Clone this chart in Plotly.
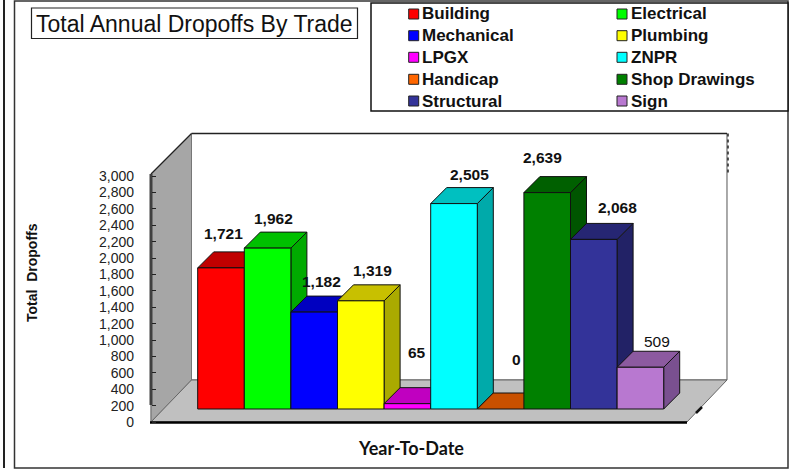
import plotly.graph_objects as go

# ---- data ----
categories = ["Building", "Electrical", "Mechanical", "Plumbing", "LPGX",
              "ZNPR", "Handicap", "Shop Drawings", "Structural", "Sign"]
values = [1721, 1962, 1182, 1319, 65, 2505, 0, 2639, 2068, 509]
value_labels = ["1,721", "1,962", "1,182", "1,319", "65", "2,505", "0", "2,639", "2,068", "509"]
tick_values = list(range(0, 3001, 200))
title_text = "Total Annual Dropoffs By Trade"
y_title = "Total\u00a0\u00a0Dropoffs"
x_title = "Year-To-Date"

# ---- style ----
front_colors = ["#FF0000", "#00FF00", "#0000FF", "#FFFF00", "#FF00FF",
                "#00FFFF", "#FF6600", "#008000", "#333399", "#B878D0"]
top_colors = ["#C00000", "#00C000", "#0000C0", "#C8C000", "#C000C0",
              "#00C0C0", "#C85000", "#006000", "#262673", "#8C5AA0"]
side_colors = ["#AA0000", "#00AA00", "#0000AA", "#AAAA00", "#AA00AA",
               "#00AAAA", "#AA4400", "#005500", "#222266", "#7A5090"]
label_dx = [2, 6, 7, 12, 10, 15, 16, -5, 24, 17]
label_dy = [34, 30, 31, 30, 51, 29, 50, 35, 32, 26]
label_bold = [True] * 9 + [False]

W, H = 793, 469
Y0_PX, PX_PER_UNIT = 422, 0.082
BAR_W, BAR0_CX = 46.6, 221.0
FLOOR_PX, BAR_DEPTH, WALL_DEPTH = 13, 16, 41
AX_L, AX_R = 151, 687
FONT = "Liberation Sans"

px = lambda v: v / W
py = lambda v: 1 - v / H
base = FLOOR_PX / PX_PER_UNIT
dx = BAR_DEPTH / BAR_W
dv = BAR_DEPTH / PX_PER_UNIT
hw = 0.5

fig = go.Figure()


def poly(xs, ys, fill, name):
    fig.add_trace(go.Scatter(x=xs + xs[:1], y=ys + ys[:1], mode="lines", fill="toself",
                             fillcolor=fill, line=dict(color="#111111", width=1),
                             name=name, showlegend=False, hoverinfo="name"))


for i, (cat, val) in enumerate(zip(categories, values)):
    top = base + val
    l, r = i - hw, i + hw
    poly([r, r + dx, r + dx, r], [base, base + dv, top + dv, top], side_colors[i], cat)
    poly([l, r, r + dx, l + dx], [top, top, top + dv, top + dv], top_colors[i], cat)
    if val > 0:
        poly([l, r, r, l], [base, base, top, top], front_colors[i], cat)

shapes = []


def path_shape(points, fill, line_color, width=1, layer="below"):
    d = "M " + " L ".join(f"{px(a):.5f},{py(b):.5f}" for a, b in points) + " Z"
    shapes.append(dict(type="path", path=d, xref="paper", yref="paper", fillcolor=fill,
                       line=dict(color=line_color, width=width), layer=layer))


def line_shape(x0, y0, x1, y1, color, width, layer="below", dash="solid"):
    shapes.append(dict(type="line", xref="paper", yref="paper", x0=px(x0), y0=py(y0), x1=px(x1), y1=py(y1),
                       line=dict(color=color, width=width, dash=dash), layer=layer))


def rect_shape(x0, y0, x1, y1, color, width, fill="rgba(0,0,0,0)", layer="below"):
    shapes.append(dict(type="rect", xref="paper", yref="paper", x0=px(x0), y0=py(y0), x1=px(x1), y1=py(y1),
                       fillcolor=fill, line=dict(color=color, width=width), layer=layer))


# page frames
line_shape(4, 0, 4, 468, "#222222", 2)
rect_shape(14.5, 1, 788, 468, "#333333", 1.5)
# walls and floor
top_back = 133.5
bot_back = 380
xb_l, xb_r = AX_L + WALL_DEPTH - 0.5, AX_R + WALL_DEPTH - 1
path_shape([(xb_l, top_back), (xb_r, top_back), (xb_r, bot_back), (xb_l, bot_back)], "#FFFFFF", "#555555", 1)
line_shape(xb_l, top_back, xb_r, top_back, "#222222", 1.5)
path_shape([(AX_L, 174), (xb_l, top_back), (xb_l, bot_back), (AX_L, Y0_PX)], "#A6A6A6", "#777777", 1)
path_shape([(AX_L, Y0_PX), (xb_l, bot_back), (xb_r, bot_back), (AX_R, Y0_PX)], "#C0C0C0", "#666666", 1)
line_shape(AX_L, 174, xb_l, top_back, "#222222", 1.2)
line_shape(xb_r + 1, top_back, xb_r + 1, 175, "#222222", 1.5, dash="dot")
line_shape(696, 413, 702, 407, "#111111", 2.5)
line_shape(AX_L, 174, AX_L, 405, "#404040", 3)
line_shape(AX_L, 405, AX_L, Y0_PX, "#808080", 1)
line_shape(150, Y0_PX + 0.5, AX_R, Y0_PX + 0.5, "#000000", 2.5)

# title and legend boxes
rect_shape(31.5, 8, 357.5, 38.5, "#222222", 1.2, fill="#FFFFFF")
rect_shape(371, 3, 788, 111, "#111111", 1.5, fill="#FFFFFF")

annotations = [
    dict(text=title_text, xref="paper", yref="paper", x=px(194.5), y=py(24), showarrow=False,
         font=dict(family=FONT, size=23, color="#111111"), xanchor="center", yanchor="middle"),
    dict(text=f"<b>{y_title}</b>", xref="paper", yref="paper", x=px(32), y=py(273), showarrow=False, textangle=-90,
         font=dict(family=FONT, size=14, color="#111111"), xanchor="center", yanchor="middle"),
    dict(text=f"<b>{x_title}</b>", xref="paper", yref="paper", x=px(411), y=py(447.7), showarrow=False,
         font=dict(family="Lato", size=18, color="#111111"), xanchor="center", yanchor="middle"),
]

# legend, two columns of five rows
col_x = [408.7, 617.0]
row_y = [14, 35.7, 57.3, 79.3, 101]
for i, cat in enumerate(categories):
    cx, cy = col_x[i % 2], row_y[i // 2]
    rect_shape(cx, cy - 5, cx + 10, cy + 5, "#222222", 1, fill=front_colors[i], layer="above")
    annotations.append(dict(text=f"<b>{cat}</b>", xref="paper", yref="paper", x=px(cx + 11.5), y=py(cy),
                            showarrow=False, xanchor="left", yanchor="middle",
                            font=dict(family=FONT, size=17, color="#111111")))

# data labels
for i, lab in enumerate(value_labels):
    annotations.append(dict(text=f"<b>{lab}</b>" if label_bold[i] else lab, x=i, y=base + values[i],
                            xref="x", yref="y", showarrow=False, xshift=label_dx[i], yshift=label_dy[i],
                            xanchor="center", yanchor="middle",
                            font=dict(family=FONT, size=15.5, color="#111111")))

fig.update_layout(
    width=W, height=H, margin=dict(l=0, r=0, t=0, b=0), autosize=False,
    paper_bgcolor="#FFFFFF", plot_bgcolor="rgba(0,0,0,0)", showlegend=False,
    shapes=shapes, annotations=annotations,
    xaxis=dict(visible=False, domain=[0, 1],
               range=[-BAR0_CX / BAR_W, (W - BAR0_CX) / BAR_W], fixedrange=True),
    yaxis=dict(range=[(Y0_PX - H) / PX_PER_UNIT, Y0_PX / PX_PER_UNIT], domain=[0, 1],
               anchor="free", position=AX_L / W, tickvals=tick_values, tickformat=",",
               ticks="inside", ticklen=4, tickwidth=1.2, tickcolor="#222222",
               ticklabelstandoff=17, showgrid=False, zeroline=False, showline=False,
               tickfont=dict(family=FONT, size=14, color="#222222"), fixedrange=True),
)

fig.write_html("out.html", config=dict(displayModeBar=False),
               post_script="document.body.style.margin='0';")
